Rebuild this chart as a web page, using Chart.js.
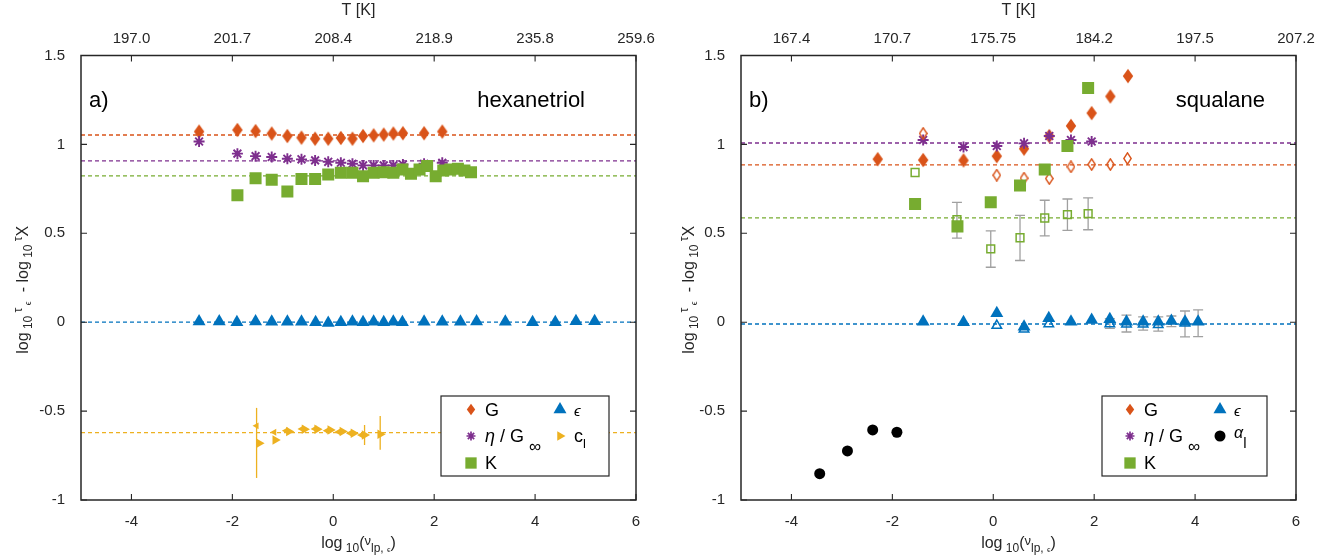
<!DOCTYPE html>
<html>
<head>
<meta charset="utf-8">
<script src="https://cdn.jsdelivr.net/npm/chart.js@4.4.1/dist/chart.umd.min.js"></script>
<style>
  html, body { margin: 0; padding: 0; background: #fff; }
  #wrap { position: relative; width: 1332px; height: 560px; }
  .panel { position: absolute; top: 0; width: 666px; height: 560px; }
</style>
</head>
<body>
<div id="wrap">
  <div class="panel" style="left:0"><canvas id="chartA"></canvas></div>
  <div class="panel" style="left:666px"><canvas id="chartB"></canvas></div>
</div>
<script>
// ---- shared axis values ----
var xTicks = [-4, -2, 0, 2, 4, 6];
var yTicks = [-1, -0.5, 0, 0.5, 1, 1.5];

// ---- a) hexanetriol ----
var hexTLabels = ['197.0', '201.7', '208.4', '218.9', '235.8', '259.6'];
var hexRefLevels = [1.053, 0.907, 0.823, 0, -0.621]; // G, eta/Ginf, K, eps, c_l
var hexGX = [-2.66, -1.90, -1.54, -1.22, -0.91, -0.63, -0.36, -0.10, 0.15, 0.38, 0.59, 0.80, 1.00, 1.19, 1.38, 1.80, 2.16];
var hexGY = [1.072, 1.081, 1.075, 1.061, 1.047, 1.038, 1.032, 1.032, 1.036, 1.032, 1.047, 1.051, 1.055, 1.061, 1.063, 1.063, 1.072];
var hexEtaX = hexGX;
var hexEtaY = [1.016, 0.948, 0.934, 0.929, 0.919, 0.916, 0.910, 0.902, 0.897, 0.891, 0.882, 0.882, 0.882, 0.882, 0.887, 0.891, 0.897];
var hexKX = [-1.90, -1.54, -1.22, -0.91, -0.63, -0.36, -0.10, 0.15, 0.38, 0.59, 0.80, 1.00, 1.19, 1.37, 1.54, 1.71, 1.86, 2.03, 2.18, 2.32, 2.47, 2.60, 2.73];
var hexKY = [0.714, 0.810, 0.801, 0.735, 0.806, 0.806, 0.831, 0.840, 0.840, 0.821, 0.840, 0.844, 0.840, 0.859, 0.835, 0.859, 0.878, 0.821, 0.853, 0.859, 0.863, 0.853, 0.844];
var hexEpsX = [-2.66, -2.26, -1.91, -1.54, -1.22, -0.91, -0.63, -0.35, -0.10, 0.15, 0.38, 0.59, 0.80, 1.00, 1.19, 1.37, 1.80, 2.16, 2.52, 2.84, 3.41, 3.95, 4.40, 4.81, 5.18];
var hexEpsY = [0.004, 0.004, 0, 0.004, 0.003, 0.003, 0.002, 0, -0.004, 0, 0.002, 0, 0.002, 0, 0.002, 0, 0.003, 0.002, 0.003, 0.004, 0.002, 0, 0, 0.005, 0.005];
var hexClX = [-1.47, -1.15, -0.88, -0.57, -0.32, -0.06, 0.18, 0.40, 0.62, 0.93];
var hexClY = [-0.681, -0.662, -0.615, -0.602, -0.602, -0.606, -0.615, -0.624, -0.634, -0.630];
var hexClLo = [null, null, null, null, null, null, null, null, -0.690, -0.718];
var hexClHi = [null, null, null, null, null, null, null, null, -0.578, -0.527];
var hexClBackX = [-1.52, -1.17, -0.94, -0.63, -0.37, -0.13, 0.10, 0.33, 0.55];
var hexClBackY = [-0.583, -0.619, -0.610, -0.600, -0.600, -0.610, -0.617, -0.625, -0.635];
var hexClBackLo = [-0.876, null, null, null, null, null, null, null, null];
var hexClBackHi = [-0.482, null, null, null, null, null, null, null, null];

// ---- b) squalane ----
var sqTLabels = ['167.4', '170.7', '175.75', '184.2', '197.5', '207.2'];
var sqRefLevels = [0.885, 1.008, 0.587, -0.01]; // G, eta/Ginf, K, eps
var sqGX = [-2.29, -1.39, -0.59, 0.07, 0.61, 1.11, 1.54, 1.95, 2.32, 2.67];
var sqGY = [0.917, 0.912, 0.910, 0.934, 0.976, 1.047, 1.104, 1.176, 1.270, 1.384];
var sqGOpenX = [-1.39, 0.07, 0.61, 1.11, 1.54, 1.95, 2.32, 2.66];
var sqGOpenY = [1.062, 0.827, 0.810, 0.808, 0.874, 0.887, 0.887, 0.921];
var sqEtaX = [-1.39, -0.59, 0.07, 0.61, 1.11, 1.54, 1.95];
var sqEtaY = [1.025, 0.985, 0.991, 1.006, 1.047, 1.025, 1.016];
var sqKX = [-1.55, -0.71, -0.05, 0.53, 1.02, 1.47, 1.88];
var sqKY = [0.665, 0.539, 0.674, 0.769, 0.859, 0.991, 1.317];
var sqKOpenX = [-1.55, -0.72, -0.05, 0.53, 1.02, 1.47, 1.88];
var sqKOpenY = [0.842, 0.577, 0.413, 0.475, 0.586, 0.605, 0.611];
var sqKOpenLo = [null, 0.473, 0.309, 0.347, 0.486, 0.516, 0.520];
var sqKOpenHi = [null, 0.674, 0.514, 0.601, 0.686, 0.693, 0.699];
var sqEpsX = [-1.39, -0.59, 0.07, 0.61, 1.10, 1.54, 1.95, 2.31, 2.64, 2.97, 3.27, 3.53, 3.80, 4.06];
var sqEpsY = [0.003, 0, 0.050, -0.025, 0.022, 0.003, 0.013, 0.017, 0.003, 0.003, 0.003, 0.007, 0.003, 0.003];
var sqEpsLo = [null, null, null, null, null, null, null, null, null, null, null, -0.025, null, -0.081];
var sqEpsHi = [null, null, null, null, null, null, null, null, null, null, null, 0.035, null, 0.069];
var sqEpsOpenX = [0.07, 0.61, 1.10, 2.31, 2.64, 2.97, 3.27, 3.80];
var sqEpsOpenY = [-0.019, -0.039, -0.010, -0.010, -0.011, -0.011, -0.015, -0.006];
var sqEpsOpenLo = [null, null, null, -0.035, -0.055, -0.045, -0.050, -0.083];
var sqEpsOpenHi = [null, null, null, 0.020, 0.040, 0.030, 0.030, 0.063];
var sqAlphaX = [-3.44, -2.89, -2.39, -1.91];
var sqAlphaY = [-0.852, -0.724, -0.606, -0.619];

// ---- styling ----
var FONT = '"Liberation Sans", Arial, Helvetica, sans-serif';
var INK = '#262626';
var C_G = '#D95319', C_ETA = '#7E2F8E', C_K = '#77AC30', C_EPS = '#0072BD', C_CL = '#EDB120', C_ERR = '#A0A0A0';

// diamonds are taller than wide, so draw them into small canvases
function diamond(w, h, filled) {
  var c = document.createElement('canvas');
  c.width = w; c.height = h;
  var g = c.getContext('2d');
  g.beginPath();
  g.moveTo(w / 2, 0.8); g.lineTo(w - 0.8, h / 2); g.lineTo(w / 2, h - 0.8); g.lineTo(0.8, h / 2);
  g.closePath();
  if (filled) { g.fillStyle = C_G; g.fill(); }
  else { g.lineWidth = 1.4; g.strokeStyle = C_G; g.stroke(); }
  return c;
}
var diaFull = diamond(12, 16, true);
var diaOpen = diamond(9, 13, false);
var diaLegend = diamond(10, 13, true);

function pts(xs, ys) {
  return xs.map(function(x, i) { return { x: x, y: ys[i] }; });
}

function refLine(level, color) {
  return {
    data: [{ x: -5, y: level }, { x: 6, y: level }],
    showLine: true, borderColor: color, borderWidth: 1.3, borderDash: [4, 3],
    pointRadius: 0, order: 10
  };
}

function marker(xs, ys, style, opts) {
  var ds = { data: pts(xs, ys), pointStyle: style, order: 1, pointRadius: 6, pointHoverRadius: 6 };
  for (var k in opts) ds[k] = opts[k];
  return ds;
}

// mixed-size text: parts are [text, size, dy, fontStyle]
function richWidth(ctx, parts) {
  var w = 0;
  parts.forEach(function(p) {
    ctx.font = (p[3] || '') + ' ' + p[1] + 'px ' + FONT;
    w += ctx.measureText(p[0]).width;
  });
  return w;
}
function drawRich(ctx, parts, x, y, align) {
  var cx = x;
  if (align === 'center') cx = x - richWidth(ctx, parts) / 2;
  if (align === 'right') cx = x - richWidth(ctx, parts);
  ctx.textBaseline = 'alphabetic';
  ctx.textAlign = 'left';
  parts.forEach(function(p) {
    ctx.font = (p[3] || '') + ' ' + p[1] + 'px ' + FONT;
    ctx.fillText(p[0], cx, y + p[2]);
    cx += ctx.measureText(p[0]).width;
  });
}

var yTitleParts = [['log', 16, 0], [' 10 ', 12, 4], ['τ', 12, -6], [' ϵ', 9, 3], ['  - log', 16, 0], [' 10 ', 12, 4], ['τ', 12, -6], ['X', 16, 0]];
var xTitleParts = [['log', 16, 0], [' 10', 12, 4], ['(', 16, 0], ['ν', 13, -3], ['lp, ', 12, 4], ['ϵ', 8, 4], [')', 16, 0]];

// frame, inward ticks, error bars, annotations and legend
var panelPlugin = {
  id: 'panelPlugin',
  beforeDatasetsDraw: function(chart) {
    var ctx = chart.ctx, sy = chart.scales.y;
    ctx.save();
    chart.data.datasets.forEach(function(ds, i) {
      if (!ds.errLo) return;
      var meta = chart.getDatasetMeta(i);
      ctx.strokeStyle = ds.errColor;
      ctx.lineWidth = 1.3;
      ctx.beginPath();
      ds.errLo.forEach(function(lo, j) {
        if (lo === null) return;
        var px = meta.data[j].x;
        var y1 = sy.getPixelForValue(lo), y2 = sy.getPixelForValue(ds.errHi[j]);
        ctx.moveTo(px, y1); ctx.lineTo(px, y2);
        if (ds.errCap) {
          ctx.moveTo(px - ds.errCap, y1); ctx.lineTo(px + ds.errCap, y1);
          ctx.moveTo(px - ds.errCap, y2); ctx.lineTo(px + ds.errCap, y2);
        }
      });
      ctx.stroke();
    });
    ctx.restore();
  },
  afterDraw: function(chart) {
    var ctx = chart.ctx, a = chart.chartArea;
    var sx = chart.scales.x, sy = chart.scales.y;
    var cfg = chart.options.plugins.panelPlugin;
    ctx.save();
    ctx.strokeStyle = INK;
    ctx.lineWidth = 1.1;
    ctx.beginPath();
    sx.ticks.forEach(function(t) {
      var px = sx.getPixelForValue(t.value);
      ctx.moveTo(px, a.bottom); ctx.lineTo(px, a.bottom - 6);
      ctx.moveTo(px, a.top); ctx.lineTo(px, a.top + 6);
    });
    sy.ticks.forEach(function(t) {
      var py = sy.getPixelForValue(t.value);
      ctx.moveTo(a.left, py); ctx.lineTo(a.left + 6, py);
      ctx.moveTo(a.right, py); ctx.lineTo(a.right - 6, py);
    });
    ctx.stroke();
    ctx.lineWidth = 1.5;
    ctx.strokeRect(a.left, a.top, a.width, a.height);

    // panel letter and sample name
    ctx.fillStyle = '#000';
    drawRich(ctx, [[cfg.letter, 22, 0]], a.left + 8, a.top + 51, 'left');
    drawRich(ctx, [[cfg.name, 22, 0]], a.right - cfg.nameRight, a.top + 51, 'right');

    // axis titles
    ctx.fillStyle = INK;
    drawRich(ctx, xTitleParts, (a.left + a.right) / 2, 548, 'center');
    ctx.save();
    ctx.translate(28, (a.top + a.bottom) / 2 + 12);
    ctx.rotate(-Math.PI / 2);
    drawRich(ctx, yTitleParts, 0, 0, 'center');
    ctx.restore();

    // legend box
    var lg = cfg.legend;
    var L = a.right - lg.right - lg.w, T = a.bottom - lg.bottom - lg.h;
    ctx.fillStyle = '#fff';
    ctx.fillRect(L, T, lg.w, lg.h);
    ctx.strokeStyle = INK;
    ctx.lineWidth = 1.2;
    ctx.strokeRect(L, T, lg.w, lg.h);
    var rows = [13.5, 40, 67];
    lg.items.forEach(function(it) {
      var mx = L + lg.cols[it.col], my = T + rows[it.row];
      ctx.save();
      ctx.fillStyle = it.bg || 'rgba(0,0,0,0)';
      ctx.strokeStyle = it.border || it.bg;
      ctx.lineWidth = it.borderWidth || 0;
      Chart.helpers.drawPoint(ctx, {
        pointStyle: it.style, radius: it.radius, rotation: it.rotation || 0, borderWidth: it.borderWidth || 0
      }, mx, my);
      ctx.restore();
      ctx.fillStyle = '#000';
      drawRich(ctx, it.text, mx + 14, my + 6, 'left');
    });
    ctx.restore();
  }
};

function makeChart(id, datasets, tLabels, pad, panelCfg) {
  return new Chart(document.getElementById(id), {
    type: 'scatter',
    data: { datasets: datasets },
    plugins: [panelPlugin],
    options: {
      responsive: true,
      maintainAspectRatio: false,
      animation: false,
      events: [],
      layout: { padding: { left: 0, right: pad.right, top: 0, bottom: 0 } },
      plugins: { legend: { display: false }, tooltip: { enabled: false }, panelPlugin: panelCfg },
      scales: {
        x: {
          type: 'linear', position: 'bottom', min: -5, max: 6,
          afterBuildTicks: function(s) { s.ticks = xTicks.map(function(v) { return { value: v }; }); },
          afterFit: function(s) { s.height = 60; },
          grid: { display: false }, border: { display: false },
          ticks: { color: INK, font: { family: FONT, size: 15 }, padding: 5, maxRotation: 0 }
        },
        xTop: {
          type: 'linear', position: 'top', min: -5, max: 6,
          afterBuildTicks: function(s) { s.ticks = xTicks.map(function(v) { return { value: v }; }); },
          afterFit: function(s) { s.height = 55.5; },
          grid: { display: false }, border: { display: false },
          ticks: {
            color: INK, font: { family: FONT, size: 15 }, padding: 0, maxRotation: 0,
            callback: function(v, i) { return tLabels[i]; }
          },
          title: { display: true, text: 'T [K]', color: INK, font: { family: FONT, size: 16 }, padding: { top: 1, bottom: 0 } }
        },
        y: {
          type: 'linear', position: 'left', min: -1, max: 1.5,
          afterBuildTicks: function(s) { s.ticks = yTicks.map(function(v) { return { value: v }; }); },
          afterFit: function(s) { s.width = pad.left; },
          grid: { display: false }, border: { display: false },
          ticks: {
            color: INK, font: { family: FONT, size: 15 }, padding: 8,
            callback: function(v) { return String(v); }
          }
        }
      }
    }
  });
}

// a) hexanetriol
makeChart('chartA', [
  refLine(hexRefLevels[0], C_G),
  refLine(hexRefLevels[1], C_ETA),
  refLine(hexRefLevels[2], C_K),
  refLine(hexRefLevels[3], C_EPS),
  refLine(hexRefLevels[4], C_CL),
  marker(hexEpsX, hexEpsY, 'triangle', { backgroundColor: C_EPS, borderColor: C_EPS, borderWidth: 0, pointRadius: 7.5 }),
  marker(hexKX, hexKY, 'rect', { backgroundColor: C_K, borderColor: C_K, borderWidth: 0, pointRadius: 8.5 }),
  marker(hexEtaX, hexEtaY, 'star', { borderColor: C_ETA, borderWidth: 1.9, pointRadius: 5.5 }),
  marker(hexGX, hexGY, diaFull, {}),
  marker(hexClBackX, hexClBackY, 'triangle', { backgroundColor: C_CL, borderColor: C_CL, borderWidth: 0, pointRadius: 4, rotation: -90, errLo: hexClBackLo, errHi: hexClBackHi, errColor: C_CL, errCap: 0 }),
  marker(hexClX, hexClY, 'triangle', { backgroundColor: C_CL, borderColor: C_CL, borderWidth: 0, pointRadius: 5.5, rotation: 90, errLo: hexClLo, errHi: hexClHi, errColor: C_CL, errCap: 0 })
], hexTLabels, { left: 81, right: 30 }, {
  letter: 'a)', name: 'hexanetriol', nameRight: 51,
  legend: {
    right: 27, bottom: 24, w: 168, h: 80, cols: [30, 119],
    items: [
      { col: 0, row: 0, style: diaLegend, radius: 5, text: [['G', 18, 0]] },
      { col: 0, row: 1, style: 'star', radius: 4.5, border: C_ETA, borderWidth: 1.7, text: [['η', 18, 0, 'italic'], [' / G ', 18, 0], ['∞', 17, 10]] },
      { col: 0, row: 2, style: 'rect', radius: 8, bg: C_K, text: [['K', 18, 0]] },
      { col: 1, row: 0, style: 'triangle', radius: 7.5, bg: C_EPS, text: [['ϵ', 15, 0, 'italic']] },
      { col: 1, row: 1, style: 'triangle', radius: 5.5, rotation: 90, bg: C_CL, text: [['c', 18, 0], ['l', 13, 6]] }
    ]
  }
});

// b) squalane
makeChart('chartB', [
  refLine(sqRefLevels[0], C_G),
  refLine(sqRefLevels[1], C_ETA),
  refLine(sqRefLevels[2], C_K),
  refLine(sqRefLevels[3], C_EPS),
  marker(sqEpsOpenX, sqEpsOpenY, 'triangle', { backgroundColor: 'rgba(0,0,0,0)', borderColor: C_EPS, borderWidth: 1.5, pointRadius: 5.5, errLo: sqEpsOpenLo, errHi: sqEpsOpenHi, errColor: C_ERR, errCap: 5 }),
  marker(sqEpsX, sqEpsY, 'triangle', { backgroundColor: C_EPS, borderColor: C_EPS, borderWidth: 0, pointRadius: 7.5, errLo: sqEpsLo, errHi: sqEpsHi, errColor: C_ERR, errCap: 5 }),
  marker(sqKOpenX, sqKOpenY, 'rect', { backgroundColor: 'rgba(0,0,0,0)', borderColor: C_K, borderWidth: 1.5, pointRadius: 5.5, errLo: sqKOpenLo, errHi: sqKOpenHi, errColor: C_ERR, errCap: 5 }),
  marker(sqKX, sqKY, 'rect', { backgroundColor: C_K, borderColor: C_K, borderWidth: 0, pointRadius: 8.5 }),
  marker(sqGOpenX, sqGOpenY, diaOpen, {}),
  marker(sqEtaX, sqEtaY, 'star', { borderColor: C_ETA, borderWidth: 1.9, pointRadius: 5.5 }),
  marker(sqGX, sqGY, diaFull, {}),
  marker(sqAlphaX, sqAlphaY, 'circle', { backgroundColor: '#000', borderColor: '#000', borderWidth: 0, pointRadius: 5.5 })
], sqTLabels, { left: 75, right: 36 }, {
  letter: 'b)', name: 'squalane', nameRight: 31,
  legend: {
    right: 29, bottom: 24, w: 165, h: 80, cols: [28, 118],
    items: [
      { col: 0, row: 0, style: diaLegend, radius: 5, text: [['G', 18, 0]] },
      { col: 0, row: 1, style: 'star', radius: 4.5, border: C_ETA, borderWidth: 1.7, text: [['η', 18, 0, 'italic'], [' / G ', 18, 0], ['∞', 17, 10]] },
      { col: 0, row: 2, style: 'rect', radius: 8, bg: C_K, text: [['K', 18, 0]] },
      { col: 1, row: 0, style: 'triangle', radius: 7.5, bg: C_EPS, text: [['ϵ', 15, 0, 'italic']] },
      { col: 1, row: 1, style: 'circle', radius: 5.5, bg: '#000', text: [['α', 16, -4, 'italic'], ['l', 15, 6]] }
    ]
  }
});
</script>
</body>
</html>
